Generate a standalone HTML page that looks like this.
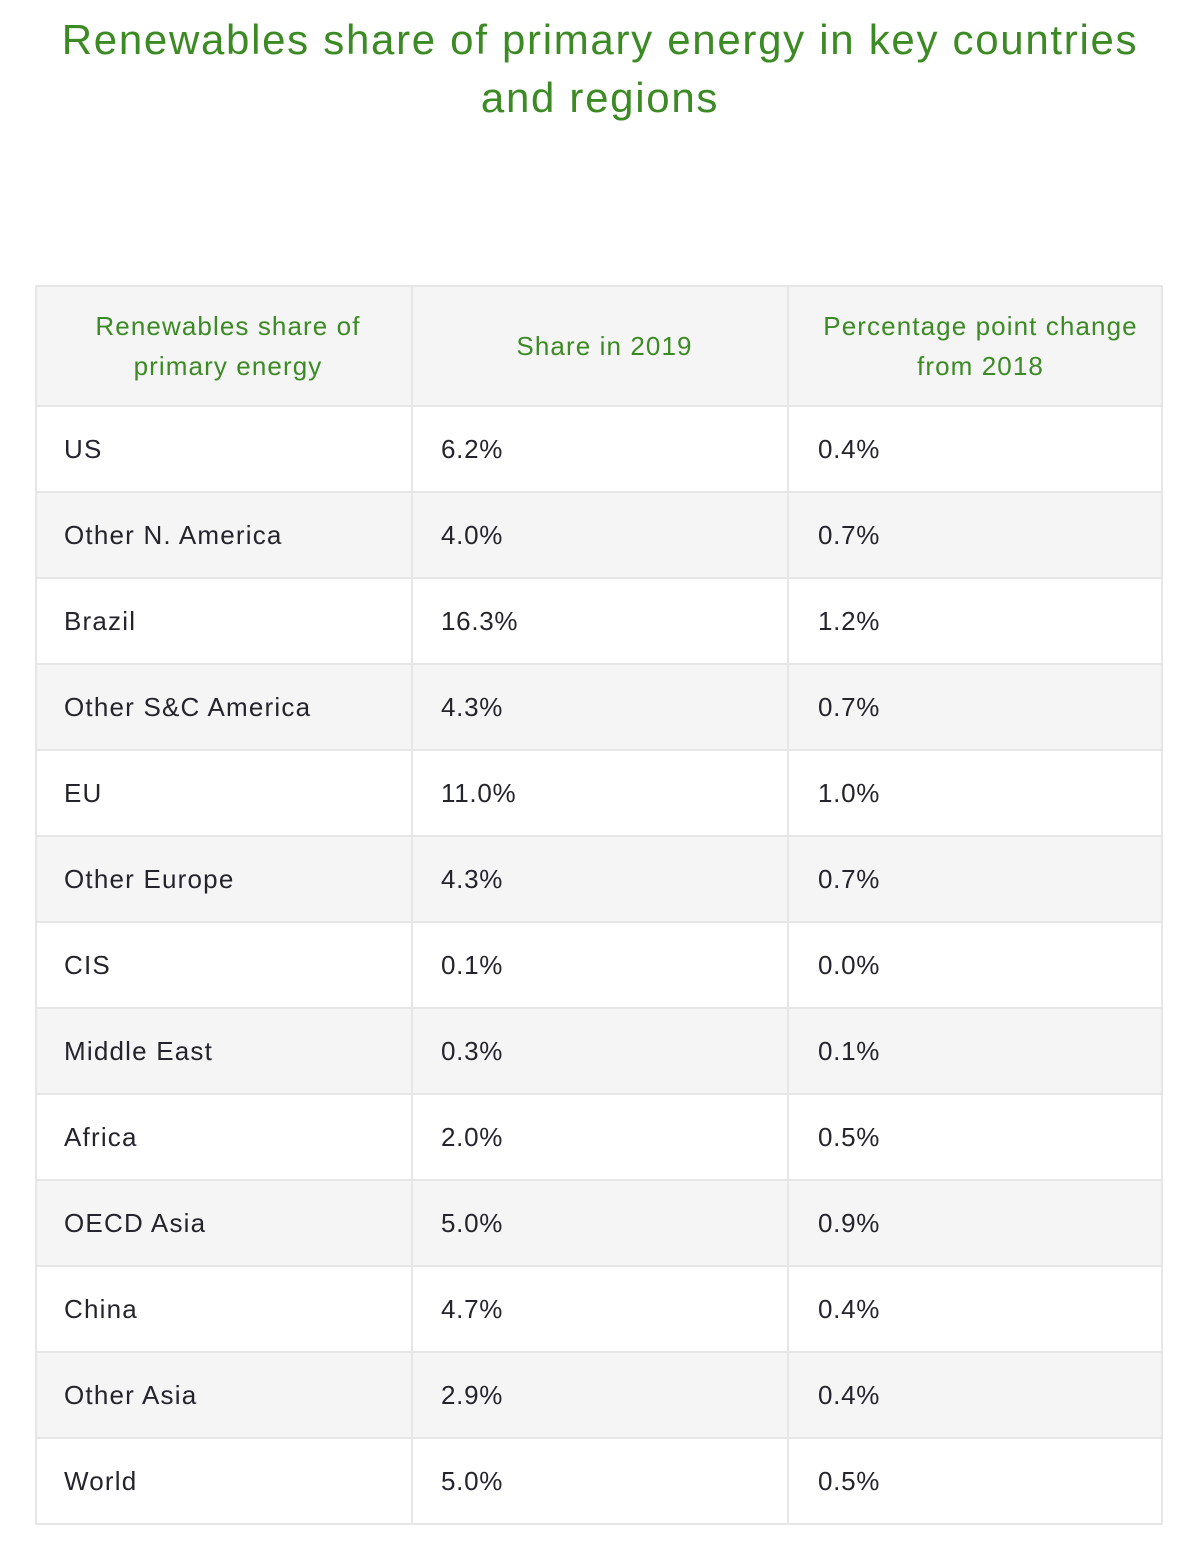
<!DOCTYPE html>
<html><head><meta charset="utf-8"><style>
html,body{margin:0;padding:0;background:#fff;}
body{width:1200px;height:1560px;position:relative;overflow:hidden;font-family:"Liberation Sans",Arial,sans-serif;}
.title{position:absolute;left:0;top:11px;width:1200px;text-align:center;color:#3b8a24;font-size:42px;line-height:58px;letter-spacing:1.7px;}
.tbl{position:absolute;left:35px;top:285px;width:1128px;height:1240px;}
.row{position:absolute;left:0;width:1128px;height:86px;}
.stripe{background:#f5f5f5;}
.hdr{position:absolute;left:0;top:0;width:1128px;height:121px;background:#f5f5f5;}
.hc{position:absolute;top:0;height:121px;box-sizing:border-box;padding-left:10px;display:flex;align-items:center;justify-content:center;text-align:center;color:#3b8a24;font-size:26px;line-height:40px;letter-spacing:1.1px;}
.c{position:absolute;top:0;height:86px;line-height:86px;font-size:26px;color:#24242c;letter-spacing:1.2px;white-space:nowrap;}
.c1{left:29px;}
.c2{left:406px;letter-spacing:0.7px;}
.c3{left:783px;letter-spacing:0.7px;}
.hl{position:absolute;left:0;width:1128px;height:2px;background:#e6e6e6;}
.vl{position:absolute;top:0;width:2px;height:1240px;background:#e6e6e6;}
</style></head><body>
<div class="title">Renewables share of primary energy in key countries<br>and regions</div>
<div class="tbl">
<div class="hdr">
<div class="hc" style="left:0;width:376px;">Renewables share of<br>primary energy</div>
<div class="hc" style="left:376px;width:377px;">Share in 2019</div>
<div class="hc" style="left:753px;width:375px;">Percentage point change<br>from 2018</div>
</div>
<div class="row" style="top:121px"><div class="c c1">US</div><div class="c c2">6.2%</div><div class="c c3">0.4%</div></div>
<div class="row stripe" style="top:207px"><div class="c c1">Other N. America</div><div class="c c2">4.0%</div><div class="c c3">0.7%</div></div>
<div class="row" style="top:293px"><div class="c c1">Brazil</div><div class="c c2">16.3%</div><div class="c c3">1.2%</div></div>
<div class="row stripe" style="top:379px"><div class="c c1">Other S&amp;C America</div><div class="c c2">4.3%</div><div class="c c3">0.7%</div></div>
<div class="row" style="top:465px"><div class="c c1">EU</div><div class="c c2">11.0%</div><div class="c c3">1.0%</div></div>
<div class="row stripe" style="top:551px"><div class="c c1">Other Europe</div><div class="c c2">4.3%</div><div class="c c3">0.7%</div></div>
<div class="row" style="top:637px"><div class="c c1">CIS</div><div class="c c2">0.1%</div><div class="c c3">0.0%</div></div>
<div class="row stripe" style="top:723px"><div class="c c1">Middle East</div><div class="c c2">0.3%</div><div class="c c3">0.1%</div></div>
<div class="row" style="top:809px"><div class="c c1">Africa</div><div class="c c2">2.0%</div><div class="c c3">0.5%</div></div>
<div class="row stripe" style="top:895px"><div class="c c1">OECD Asia</div><div class="c c2">5.0%</div><div class="c c3">0.9%</div></div>
<div class="row" style="top:981px"><div class="c c1">China</div><div class="c c2">4.7%</div><div class="c c3">0.4%</div></div>
<div class="row stripe" style="top:1067px"><div class="c c1">Other Asia</div><div class="c c2">2.9%</div><div class="c c3">0.4%</div></div>
<div class="row" style="top:1153px"><div class="c c1">World</div><div class="c c2">5.0%</div><div class="c c3">0.5%</div></div>

<div class="hl" style="top:0"></div>
<div class="hl" style="top:120px"></div>
<div class="hl" style="top:206px"></div>
<div class="hl" style="top:292px"></div>
<div class="hl" style="top:378px"></div>
<div class="hl" style="top:464px"></div>
<div class="hl" style="top:550px"></div>
<div class="hl" style="top:636px"></div>
<div class="hl" style="top:722px"></div>
<div class="hl" style="top:808px"></div>
<div class="hl" style="top:894px"></div>
<div class="hl" style="top:980px"></div>
<div class="hl" style="top:1066px"></div>
<div class="hl" style="top:1152px"></div>
<div class="hl" style="top:1238px"></div>
<div class="vl" style="left:0"></div>
<div class="vl" style="left:376px"></div>
<div class="vl" style="left:752px"></div>
<div class="vl" style="left:1126px"></div>
</div>
</body></html>
